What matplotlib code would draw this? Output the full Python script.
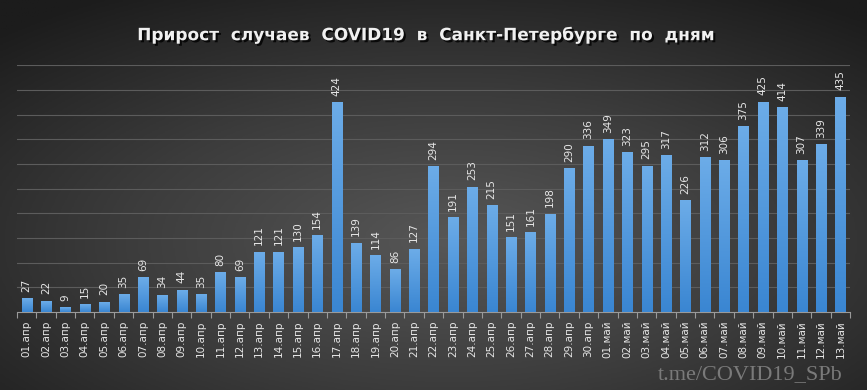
import numpy as np
import matplotlib.pyplot as plt
import matplotlib.patheffects as pe
from matplotlib.colors import LinearSegmentedColormap

days_apr = ["%02d.апр" % d for d in range(1, 31)]
days_may = ["%02d.май" % d for d in range(1, 14)]
labels = days_apr + days_may

cases = [27, 22, 9, 15, 20, 35, 69, 34, 44, 35, 80, 69, 121, 121, 130, 154, 424,
         139, 114, 86, 127, 294, 191, 253, 215, 151, 161, 198, 290, 336,
         349, 323, 295, 317, 226, 312, 306, 375, 425, 414, 307, 339, 435]

title = "Прирост  случаев  COVID19  в  Санкт-Петербурге  по  дням"
watermark = "t.me/COVID19_SPb"

fig = plt.figure(figsize=(8.67, 3.9), dpi=100)

# radial background
bg = fig.add_axes([0, 0, 1, 1])
yy, xx = np.mgrid[0:1:300j, 0:1:600j]
r = np.sqrt(((xx - 0.52) / 0.75) ** 2 + ((yy - 0.62) / 0.75) ** 2)
bg_cmap = LinearSegmentedColormap.from_list("bg", ["#575757", "#3c3c3c", "#1c1c1c"])
bg.imshow(np.clip(r, 0, 1), cmap=bg_cmap, extent=[0, 1, 0, 1], aspect="auto", origin="upper")
bg.axis("off")

ax = fig.add_axes([0.0196, 0.2, 0.9608, 0.633])
ax.set_facecolor("none")

x = np.arange(len(cases))
bars = ax.bar(x, cases, width=0.52, color="none", zorder=3)

# gradient fill for bars
bar_cmap = LinearSegmentedColormap.from_list("bar", ["#3a86d2", "#6cacE8"])
grad = np.linspace(0, 1, 100).reshape(-1, 1)
for b in bars:
    ax.imshow(grad, cmap=bar_cmap, origin="lower", aspect="auto", zorder=3,
              extent=[b.get_x(), b.get_x() + b.get_width(), 0, b.get_height()])

for xi, v in zip(x, cases):
    ax.text(xi, v + 14, str(v), rotation=90, ha="center", va="bottom",
            color="#e6e6e6", fontsize=7.5, zorder=4)

ax.set_xlim(-0.5, len(cases) - 0.5)
ax.set_ylim(0, 500)
ax.set_yticks(np.arange(50, 501, 50))
ax.yaxis.grid(True, color="#5c5c5c", lw=0.8, zorder=0)
ax.tick_params(axis="y", left=False, labelleft=False)

ax.set_xticks(x)
ax.set_xticklabels(labels, rotation=90, color="#e6e6e6", fontsize=7.5)
ax.set_xticks(np.arange(-0.5, len(cases), 1), minor=True)
ax.tick_params(axis="x", which="major", length=0, pad=6)
ax.tick_params(axis="x", which="minor", length=4, color="#9a9a9a", width=0.8)

for s in ["top", "right", "left"]:
    ax.spines[s].set_visible(False)
ax.spines["bottom"].set_color("#9a9a9a")

fig.text(0.49, 0.91, title, ha="center", va="center", color="#f0f0f0",
         fontsize=12.2, fontweight="bold",
         path_effects=[pe.withSimplePatchShadow(offset=(1.5, -1.5), shadow_rgbFace="black", alpha=0.8)])

fig.text(0.972, 0.04, watermark, ha="right", va="center", color="#7a7a7a",
         fontsize=16, family="Liberation Serif")

plt.savefig("out.png", dpi=100)
